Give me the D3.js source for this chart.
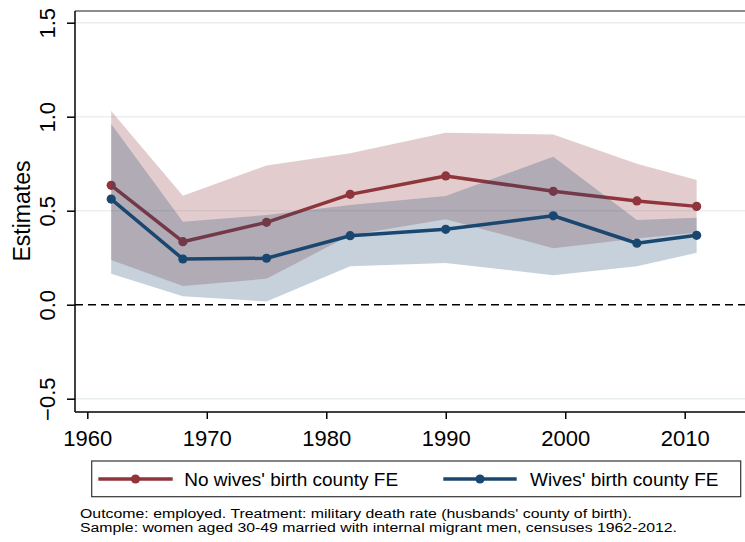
<!DOCTYPE html>
<html>
<head>
<meta charset="utf-8">
<script src="https://cdn.jsdelivr.net/npm/d3@7"></script>
<style>
html,body{margin:0;padding:0;background:#fff;}
svg{display:block;font-family:"Liberation Sans",Arial,Helvetica,sans-serif;}
</style>
</head>
<body>
<svg id="chart" width="745" height="542"></svg>
<script>
const years = [1962, 1968, 1975, 1982, 1990, 1999, 2006, 2011];
const noFeEst = [0.635, 0.335, 0.438, 0.587, 0.685, 0.603, 0.552, 0.523];
const noFeHi  = [1.03, 0.58, 0.74, 0.805, 0.915, 0.905, 0.75, 0.663];
const noFeLo  = [0.238, 0.10, 0.138, 0.37, 0.455, 0.30, 0.352, 0.383];
const feEst = [0.562, 0.243, 0.247, 0.367, 0.401, 0.473, 0.327, 0.369];
const feHi  = [0.961, 0.441, 0.477, 0.53, 0.578, 0.787, 0.45, 0.463];
const feLo  = [0.165, 0.045, 0.017, 0.205, 0.222, 0.157, 0.205, 0.276];
const xTicks = [1960, 1970, 1980, 1990, 2000, 2010];
const yTicks = [-0.5, 0, 0.5, 1, 1.5];
const seriesNames = ["No wives' birth county FE", "Wives' birth county FE"];
const notes = [
  "Outcome: employed. Treatment: military death rate (husbands' county of birth).",
  "Sample: women aged 30-49 married with internal migrant men, censuses 1962-2012."
];

const maroon = "#90353b", navy = "#1a476f";
const svg = d3.select("#chart");
const L = 75, R = 745, T = 11, B = 412;

const x = d3.scaleLinear().domain([1960, 2010]).range([87.3, 684.7]);
const y = d3.scaleLinear().domain([0, 1.5]).range([304.7, 22.7]);

// gridlines
svg.append("g").selectAll("line").data(yTicks.filter(d => d !== 0)).join("line")
  .attr("x1", L).attr("x2", R)
  .attr("y1", d => y(d)).attr("y2", d => y(d))
  .attr("stroke", "#eaf0f2").attr("stroke-width", 1.5);

function drawSeries(est, lo, hi, color) {
  const data = years.map((yr, i) => ({yr, est: est[i], lo: lo[i], hi: hi[i]}));
  svg.append("path").datum(data)
    .attr("d", d3.area().x(d => x(d.yr)).y0(d => y(d.lo)).y1(d => y(d.hi)))
    .attr("fill", color).attr("fill-opacity", 0.25);
  svg.append("path").datum(data)
    .attr("d", d3.line().x(d => x(d.yr)).y(d => y(d.est)))
    .attr("fill", "none").attr("stroke", color).attr("stroke-width", 3.5)
    .attr("stroke-linejoin", "round");
  svg.append("g").selectAll("circle").data(data).join("circle")
    .attr("cx", d => x(d.yr)).attr("cy", d => y(d.est)).attr("r", 4.6)
    .attr("fill", color);
}
drawSeries(noFeEst, noFeLo, noFeHi, maroon);
drawSeries(feEst, feLo, feHi, navy);

// zero line
svg.append("line").attr("x1", L).attr("x2", R).attr("y1", y(0)).attr("y2", y(0))
  .attr("stroke", "#000").attr("stroke-width", 1.6).attr("stroke-dasharray", "8,5");

// top border
svg.append("line").attr("x1", L).attr("x2", R).attr("y1", T).attr("y2", T)
  .attr("stroke", "#666").attr("stroke-width", 1.5);

// y axis
const yAxis = svg.append("g").attr("transform", `translate(${L},0)`)
  .call(d3.axisLeft(y).tickValues(yTicks).tickSize(8).tickFormat(d3.format(".1f")));
yAxis.select(".domain").attr("d", `M0,${T}V${B}`).attr("stroke", "#000").attr("stroke-width", 1.5);
yAxis.selectAll(".tick line").attr("stroke", "#000").attr("stroke-width", 1.5);
yAxis.selectAll(".tick text")
  .attr("x", null).attr("dy", null)
  .attr("transform", "translate(-20,0) rotate(-90)")
  .attr("text-anchor", "middle").attr("font-size", 22).attr("fill", "#000")
  .attr("font-family", "'Liberation Sans',Arial,sans-serif");

// x axis
const xAxis = svg.append("g").attr("transform", `translate(0,${B})`)
  .call(d3.axisBottom(x).tickValues(xTicks).tickSize(7).tickFormat(d3.format("d")));
xAxis.select(".domain").attr("d", `M${L},0H${R}`).attr("stroke", "#000").attr("stroke-width", 1.5);
xAxis.selectAll(".tick line").attr("stroke", "#000").attr("stroke-width", 1.5);
xAxis.selectAll(".tick text").attr("y", 34).attr("dy", null)
  .attr("font-size", 22).attr("fill", "#000")
  .attr("font-family", "'Liberation Sans',Arial,sans-serif");

// y title
svg.append("text").attr("transform", "translate(30,211) rotate(-90)")
  .attr("text-anchor", "middle").attr("font-size", 23).text("Estimates");

// legend
svg.append("rect").attr("x", 91.7).attr("y", 461).attr("width", 649).attr("height", 35.7)
  .attr("fill", "#fff").attr("stroke", "#333").attr("stroke-width", 1.2);
const legItems = [
  {name: seriesNames[0], color: maroon, x0: 98.3, x1: 172.7, tx: 184.3},
  {name: seriesNames[1], color: navy, x0: 443.3, x1: 516.7, tx: 530}
];
legItems.forEach(it => {
  svg.append("line").attr("x1", it.x0).attr("x2", it.x1).attr("y1", 479).attr("y2", 479)
    .attr("stroke", it.color).attr("stroke-width", 3.5);
  svg.append("circle").attr("cx", (it.x0 + it.x1) / 2).attr("cy", 479).attr("r", 4.6).attr("fill", it.color);
  svg.append("text").attr("x", it.tx).attr("y", 486).attr("font-size", 19).attr("fill", "#000").text(it.name);
});

// notes
svg.append("text").attr("x", 80).attr("y", 518).attr("font-size", 12.5)
  .attr("textLength", 552).attr("lengthAdjust", "spacingAndGlyphs").text(notes[0]);
svg.append("text").attr("x", 80).attr("y", 531.5).attr("font-size", 12.5)
  .attr("textLength", 597).attr("lengthAdjust", "spacingAndGlyphs").text(notes[1]);
</script>
</body>
</html>
